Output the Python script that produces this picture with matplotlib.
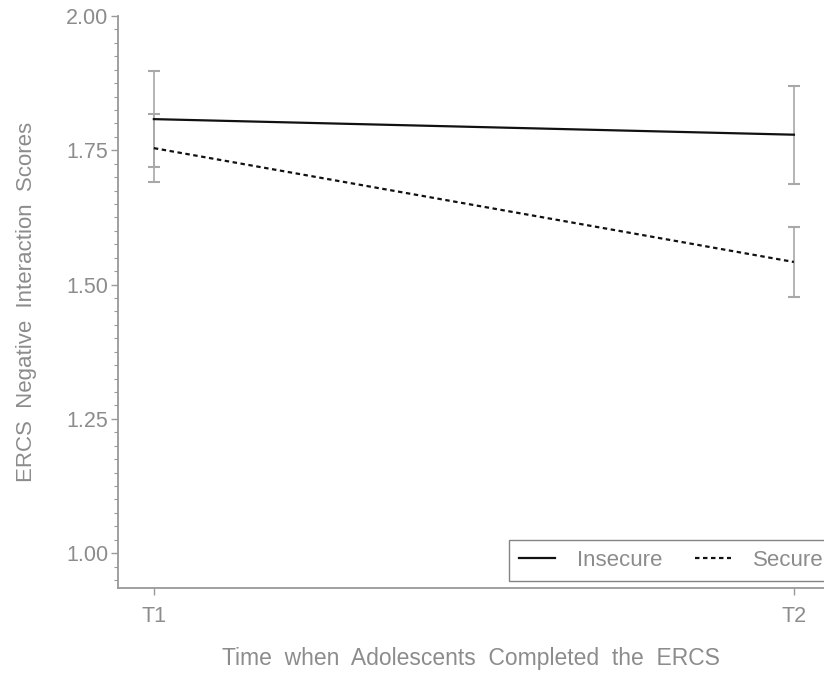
import numpy as np
import matplotlib
matplotlib.use("Agg")
import matplotlib.pyplot as plt
from matplotlib.ticker import MultipleLocator, FormatStrFormatter

# values
times = ["T1", "T2"]
insecure_mean = [1.808, 1.779]
insecure_err = [0.090, 0.091]
secure_mean = [1.754, 1.542]
secure_err = [0.064, 0.066]

plt.rcParams['font.family'] = ['Liberation Sans', 'DejaVu Sans']
grey = '#8c8c8c'

fig = plt.figure(figsize=(8.24, 6.73), dpi=100)
ax = fig.add_axes([118 / 824, 85 / 673, (824 - 118) / 824, (588 - 16) / 673])

x = np.arange(len(times))

# error bars (grey stems, black caps)
for mean, err in [(insecure_mean, insecure_err), (secure_mean, secure_err)]:
    _, caps, _ = ax.errorbar(x, mean, yerr=err, fmt='none', ecolor='#a8a8a8',
                             elinewidth=1.2, capsize=4, capthick=1.5, zorder=2)
    for c in caps:
        c.set_color('#222222')

l1, = ax.plot(x, insecure_mean, color='#111111', lw=1.6, label='Insecure', zorder=3)
l2, = ax.plot(x, secure_mean, color='#111111', lw=1.6, ls=(0, (2, 1.6)), label='Secure', zorder=3)

ax.set_xlim(-0.056, 1.047)
ax.set_ylim(0.935, 2.0)
ax.set_xticks(x)
ax.set_xticklabels(times)
ax.yaxis.set_major_locator(MultipleLocator(0.25))
ax.yaxis.set_minor_locator(MultipleLocator(0.025))
ax.yaxis.set_major_formatter(FormatStrFormatter('%.2f'))

for side in ['top', 'right']:
    ax.spines[side].set_visible(False)
for side in ['left', 'bottom']:
    ax.spines[side].set_color('#999999')
    ax.spines[side].set_linewidth(1.3)

ax.tick_params(axis='y', which='major', length=5, width=1, color='#999999',
               labelsize=15.5, labelcolor=grey, pad=2)
ax.tick_params(axis='y', which='minor', length=3, width=0.8, color='#999999')
ax.tick_params(axis='x', length=5, width=1, color='#999999',
               labelsize=15.5, labelcolor=grey, pad=8)

ax.set_ylabel('ERCS  Negative  Interaction  Scores', fontsize=16, color=grey, labelpad=21)
ax.set_xlabel('Time  when  Adolescents  Completed  the  ERCS', fontsize=16.5, color=grey, labelpad=14)

leg = ax.legend(handles=[l1, l2], ncol=2, loc='lower left',
                bbox_to_anchor=(509 / 824, 1 - 581 / 673), bbox_transform=fig.transFigure,
                fontsize=16, frameon=True, fancybox=False, handlelength=1.6,
                columnspacing=1.5, handletextpad=1.0, borderpad=0.45, borderaxespad=0)
leg.get_frame().set_edgecolor('#666666')
leg.get_frame().set_linewidth(1.0)
for t in leg.get_texts():
    t.set_color(grey)

fig.savefig('out.png', dpi=100)
